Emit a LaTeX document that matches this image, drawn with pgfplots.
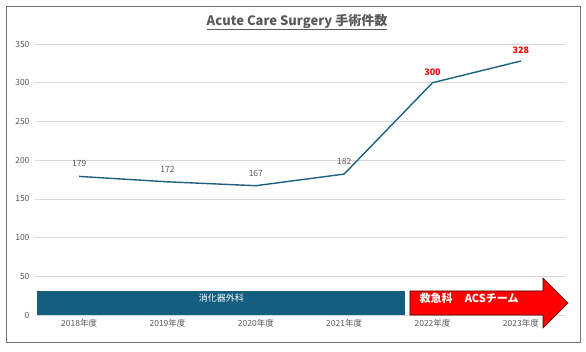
\documentclass[border=0pt]{standalone}
\usepackage{pgfplots}
\pgfplotsset{compat=1.18}
\usepackage{fontspec}
\setmainfont{Noto Sans CJK JP}
\definecolor{linec}{RGB}{30,96,128}
\definecolor{barc}{RGB}{22,94,128}
\definecolor{txtg}{RGB}{89,89,89}
\definecolor{gridc}{RGB}{217,217,217}
\begin{document}
\begin{tikzpicture}[x=1pt,y=1pt]
\path (0,0) rectangle (586,351);
\draw[black!55, line width=0.8pt] (6,9) rectangle (580,345);
\node[font=\bfseries\fontsize{13}{15}\selectfont, text=txtg] at (297,329) {\underline{Acute Care Surgery 手術件数}};
\begin{axis}[
  at={(35pt,36pt)}, anchor=south west,
  scale only axis, width=530pt, height=271pt,
  xmin=-0.5, xmax=5.5, ymin=0, ymax=350,
  axis line style={draw=none},
  clip=false,
  xtick={0,1,2,3,4,5},
  xticklabels={2018年度,2019年度,2020年度,2021年度,2022年度,2023年度},
  ytick={0,50,100,150,200,250,300,350},
  ymajorgrids, grid style={gridc, line width=0.6pt},
  major tick length=0pt,
  tick label style={text=txtg, font=\fontsize{8.5}{10}\selectfont},
  yticklabel style={xshift=-2pt},
  xticklabel style={yshift=-1pt},
  /pgf/number format/assume math mode=true,
]
\fill[barc] (axis cs:-0.477,0) rectangle (axis cs:3.689,31);
\node[text=white, font=\fontsize{9}{10}\selectfont] at (axis cs:1.61,22) {消化器外科};
\filldraw[fill=red, draw=black!70!red, line width=0.6pt]
  (axis cs:3.745,0) -- (axis cs:3.745,31) -- (axis cs:5.251,31) -- (axis cs:5.251,47.8)
  -- (axis cs:5.534,15.5) -- (axis cs:5.251,-16.8) -- (axis cs:5.251,0) -- cycle;
\node[text=white, font=\bfseries\fontsize{11}{12}\selectfont, anchor=west] at (axis cs:3.815,22) {救急科\hspace{1.1em}ACSチーム};
\addplot[linec, line width=1.4pt, mark=none] coordinates {
  (0,179) (1,172) (2,167) (3,182) (4,300) (5,328)
};
\node[text=txtg, font=\fontsize{8.5}{10}\selectfont, anchor=south] at (axis cs:0,179) [yshift=6pt] {179};
\node[text=txtg, font=\fontsize{8.5}{10}\selectfont, anchor=south] at (axis cs:1,172) [yshift=6pt] {172};
\node[text=txtg, font=\fontsize{8.5}{10}\selectfont, anchor=south] at (axis cs:2,167) [yshift=6pt] {167};
\node[text=txtg, font=\fontsize{8.5}{10}\selectfont, anchor=south] at (axis cs:3,182) [yshift=6pt] {182};
\node[text=red, font=\bfseries\fontsize{9}{10}\selectfont, anchor=south] at (axis cs:4,300) [yshift=4pt] {300};
\node[text=red, font=\bfseries\fontsize{9}{10}\selectfont, anchor=south] at (axis cs:5,328) [yshift=4pt] {328};
\end{axis}
\end{tikzpicture}
\end{document}
